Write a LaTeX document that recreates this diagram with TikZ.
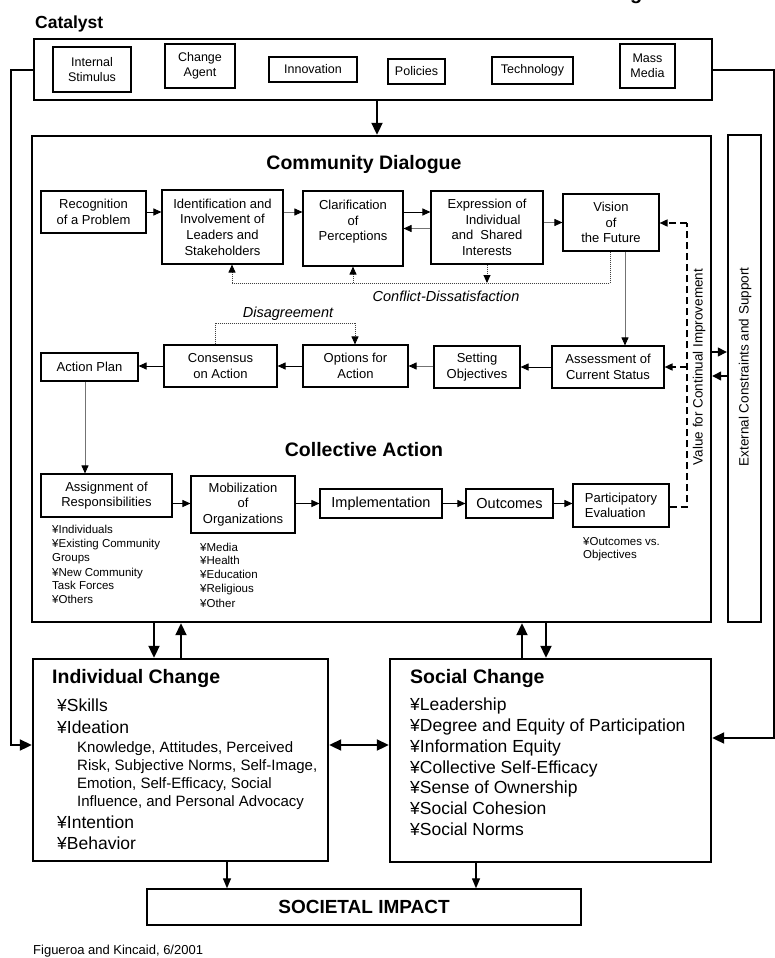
\documentclass[tikz,border=0pt]{standalone}
\usepackage{fontspec}
\setmainfont{Liberation Sans}
\usetikzlibrary{arrows.meta,fit}
\newcommand{\fsz}[2]{\fontsize{#1}{#2}\selectfont}
\begin{document}
\begin{tikzpicture}[x=1pt,y=-1pt,
  box/.style={draw, line width=1.1pt, inner sep=0pt, align=center, font=\fsz{13}{15.6}},
  sz/.style 2 args={minimum width=#1, minimum height=#2},
  cbox/.style={box, font=\fsz{12.5}{14.5}},
  bigframe/.style={draw, line width=2.4pt, inner sep=0pt},
  txt/.style={inner sep=0pt, anchor=base west},
  small/.style={txt, font=\fsz{11.5}{14}},
  mid/.style={txt, font=\fsz{17.5}{21}},
  knw/.style={txt, font=\fsz{15}{17.5}},
  heading/.style={inner sep=0pt, anchor=base, font=\bfseries\fsz{19.5}{22}},
  headtip/.style={-{Triangle[length=8pt,width=7pt,color=black]}},
  arr/.style={line width=1pt, headtip},
  garr/.style={line width=0.9pt, black!55, headtip},
  bigarr/.style={line width=2pt, -{Triangle[length=12pt,width=11pt]}},
  midarr/.style={line width=1.3pt, -{Triangle[length=10pt,width=8pt]}},
  dotl/.style={line width=0.9pt, black!75, dash pattern=on 1pt off 1pt},
  dashl/.style={line width=1.6pt, dash pattern=on 7pt off 4pt},
]
\useasboundingbox (0,0) rectangle (775,958);

% descender of the heading above the page
\node[txt, font=\bfseries\fsz{20}{24}] (topg) at (630,0) {g};

% ---------- Catalyst ----------
\node[txt, font=\bfseries\fsz{17.5}{20}] (cattitle) at (35,29) {Catalyst};
\node[bigframe, fit={(34,39) (712,100)}] (catalyst) {};
\node[cbox, sz={78}{45}] (cis) at (92,69.5)    {Internal\\Stimulus};
\node[cbox, sz={70}{44}] (cca) at (200,66)     {Change\\Agent};
\node[cbox, sz={88}{25}] (cin) at (313,69.5)   {Innovation};
\node[cbox, sz={57}{25}] (cpo) at (416.5,71.5) {Policies};
\node[cbox, sz={81}{27}] (cte) at (532.5,70.5) {Technology};
\node[cbox, sz={55}{44}] (cmm) at (647.5,66)   {Mass\\Media};

% ---------- Community dialogue / collective action frame ----------
\node[bigframe, fit={(32,136) (711,622)}] (comm) {};
\node[bigframe, fit={(728,135) (761,622)}] (ext) {};
\node[rotate=90, inner sep=0pt, font=\fsz{13.5}{16}] (exttext) at (745,367) {External Constraints and Support};
\node[rotate=90, inner sep=0pt, font=\fsz{13.5}{16}] (valtext) at (699,367) {Value for Continual Improvement};

\node[heading] (cdtitle) at (364,169) {Community Dialogue};
\node[heading] (catitle) at (364,456) {Collective Action};

\node[box, sz={105}{42}] (rec)    at (93.5,212)  {Recognition\\of a Problem};
\node[box, sz={121}{74}] (ident)  at (222.5,227) {Identification and\\Involvement of\\Leaders and\\Stakeholders};
\node[box, sz={100}{75}] (clar)   at (353,228.5) {};
\node[align=center, inner sep=0pt, font=\fsz{13}{15.6}] (clartext) at (353,222) {Clarification\\of\\Perceptions};
\node[box, sz={112}{73}] (expr)   at (487,227.5) {Expression of\\\hspace*{12pt}Individual\\and\ \ Shared\\Interests};
\node[box, sz={96}{57}]  (vision) at (611,222.5) {Vision\\of\\the Future};

\node[box, sz={97}{28}]  (aplan)   at (89.5,367) {Action Plan};
\node[box, sz={113}{42}] (cons)    at (220.5,366) {Consensus\\on Action};
\node[box, sz={105}{42}] (options) at (355.5,366) {Options for\\Action};
\node[box, sz={86}{42}]  (setting) at (477,367) {Setting\\Objectives};
\node[box, sz={112}{42}] (assess)  at (608,367) {Assessment of\\Current Status};

\node[box, sz={131}{43}] (assign) at (106.5,495.5) {Assignment of\\Responsibilities};
\node[box, sz={104}{57}] (mobil)  at (243,504.5) {Mobilization\\of\\Organizations};
\node[box, sz={122}{29}, font=\fsz{14.5}{17}] (impl) at (381,503.5) {Implementation};
\node[box, sz={87}{29}, font=\fsz{14.5}{17}]  (outc) at (509.5,503.5) {Outcomes};
\node[box, sz={96}{43}, align=left] (eval) at (621,505.5) {Participatory\\Evaluation};

\node[font=\itshape\fsz{14.5}{17}, inner sep=0pt] (conflict) at (446,296) {Conflict-Dissatisfaction};
\node[font=\itshape\fsz{14.5}{17}, inner sep=0pt] (disagree) at (288,314) {Disagreement};

% lists under the action boxes
\node[small] (as1) at (52,533) {¥Individuals};
\node[small] (as2) at (52,547) {¥Existing Community};
\node[small] (as3) at (52,561) {Groups};
\node[small] (as4) at (52,576) {¥New Community};
\node[small] (as5) at (52,589) {Task Forces};
\node[small] (as6) at (52,603) {¥Others};
\node[small] (mo1) at (200,551) {¥Media};
\node[small] (mo2) at (200,564) {¥Health};
\node[small] (mo3) at (200,578) {¥Education};
\node[small] (mo4) at (200,592) {¥Religious};
\node[small] (mo5) at (200,607) {¥Other};
\node[small] (ev1) at (583,545) {¥Outcomes vs.};
\node[small] (ev2) at (583,558) {Objectives};

% ---------- Individual and social change ----------
\node[bigframe, fit={(33,659) (328,861)}] (indiv) {};
\node[bigframe, fit={(390,659) (711,862)}] (social) {};
\node[txt, font=\bfseries\fsz{19.5}{22}] (ictitle) at (52,683) {Individual Change};
\node[txt, font=\bfseries\fsz{19.5}{22}] (sctitle) at (410,683) {Social Change};

\node[mid] (ic1) at (57,711) {¥Skills};
\node[mid] (ic2) at (57,733) {¥Ideation};
\node[knw] (ic3) at (77,752) {Knowledge, Attitudes, Perceived};
\node[knw] (ic4) at (77,770) {Risk, Subjective Norms, Self-Image,};
\node[knw] (ic5) at (77,788) {Emotion, Self-Efficacy, Social};
\node[knw] (ic6) at (77,806) {Influence, and Personal Advocacy};
\node[mid] (ic7) at (57,828) {¥Intention};
\node[mid] (ic8) at (57,849) {¥Behavior};

\node[mid] (sc1) at (410,710) {¥Leadership};
\node[mid] (sc2) at (410,731) {¥Degree and Equity of Participation};
\node[mid] (sc3) at (410,752) {¥Information Equity};
\node[mid] (sc4) at (410,773) {¥Collective Self-Efficacy};
\node[mid] (sc5) at (410,793) {¥Sense of Ownership};
\node[mid] (sc6) at (410,814) {¥Social Cohesion};
\node[mid] (sc7) at (410,835) {¥Social Norms};

\node[draw, line width=1.4pt, inner sep=0pt, sz={434}{36}, font=\bfseries\fsz{19}{22}] (impact) at (364,907) {SOCIETAL IMPACT};

\node[txt, font=\fsz{13}{15}] (credit) at (33,954) {Figueroa and Kincaid, 6/2001};

% ---------- helper points for connector routes ----------
\coordinate (vx) at (625,0);
\coordinate (ax) at (85,0);
\coordinate (c1) at (610,283);
\coordinate (c2) at (232,283);
\coordinate (c3) at (353,283);
\coordinate (c4) at (487,283);
\coordinate (d1) at (215,323);
\coordinate (d2) at (355,323);
\coordinate (e1) at (687,507);
\coordinate (e2) at (687,223);
\coordinate (e3) at (687,367);
\coordinate (b1) at (0,352);
\coordinate (b2) at (0,376);
\coordinate (k) at (377,0);
\coordinate (i1) at (154,0);
\coordinate (i2) at (181,0);
\coordinate (s1) at (522,0);
\coordinate (s2) at (546,0);
\coordinate (g1) at (0,745);
\coordinate (g2) at (0,738);
\coordinate (l1) at (11,70);
\coordinate (r1) at (774,70);
\coordinate (t1) at (227,0);
\coordinate (t2) at (476,0);

% ---------- dialogue connectors ----------
\draw[arr]  (rec.east) -- (rec.east -| ident.west);
\draw[garr] (ident.east |- rec.east) -- (clar.west |- rec.east);
\draw[arr]  (clar.east |- rec.east) -- (expr.west |- rec.east);
\draw[garr] (expr.west |- clar.east) -- (clar.east);
\draw[garr] (expr.east |- vision.west) -- (vision.west);
\draw[garr] (vision.south -| vx) -- (assess.north -| vx);
\draw[arr]  (assess.west) -- (assess.west -| setting.east);
\draw[garr] (setting.west |- options.east) -- (options.east);
\draw[arr]  (options.west) -- (options.west -| cons.east);
\draw[arr]  (cons.west) -- (cons.west -| aplan.east);
\draw[garr] (aplan.south -| ax) -- (assign.north -| ax);

% conflict and disagreement loops
\draw[dotl] (vision.south -| c1) -- (c1) -- (c2);
\draw[dotl, headtip] (c2) -- (ident.south -| c2);
\draw[dotl, headtip] (c3) -- (clar.south -| c3);
\draw[dotl, headtip] (expr.south -| c4) -- (c4);
\draw[dotl] (cons.north -| d1) -- (d1) -- (d2);
\draw[dotl, headtip] (d2) -- (options.north -| d2);

% ---------- action connectors ----------
\draw[arr] (assign.east |- impl.west) -- (mobil.west |- impl.west);
\draw[arr] (mobil.east |- impl.west) -- (impl.west);
\draw[arr] (impl.east) -- (outc.west);
\draw[arr] (outc.east) -- (outc.east -| eval.west);

% continual improvement feedback
\draw[dashl] (eval.east |- e1) -- (e1) -- (e2);
\draw[dashl, headtip] (e2) -- (vision.east |- e2);
\draw[dashl, headtip] (e3) -- (assess.east |- e3);

% external constraints
\draw[line width=1.3pt, -{Triangle[length=9pt,width=9pt]}] (comm.east |- b1) -- (ext.west |- b1);
\draw[line width=1.3pt, -{Triangle[length=9pt,width=9pt]}] (ext.west |- b2) -- (comm.east |- b2);

% ---------- main flows ----------
\draw[bigarr] (catalyst.south -| k) -- (comm.north -| k);
\draw[bigarr] (comm.south -| i1) -- (indiv.north -| i1);
\draw[bigarr] (indiv.north -| i2) -- (comm.south -| i2);
\draw[bigarr] (social.north -| s1) -- (comm.south -| s1);
\draw[bigarr] (comm.south -| s2) -- (social.north -| s2);
\draw[line width=2pt, {Triangle[length=12pt,width=11pt]}-{Triangle[length=12pt,width=11pt]}] (indiv.east |- g1) -- (social.west |- g1);
\draw[bigarr] (catalyst.west |- l1) -- (l1) -- (l1 |- g1) -- (indiv.west |- g1);
\draw[bigarr] (catalyst.east |- r1) -- (r1) -- (r1 |- g2) -- (social.east |- g2);
\draw[midarr] (indiv.south -| t1) -- (impact.north -| t1);
\draw[midarr] (social.south -| t2) -- (impact.north -| t2);
\end{tikzpicture}
\end{document}
